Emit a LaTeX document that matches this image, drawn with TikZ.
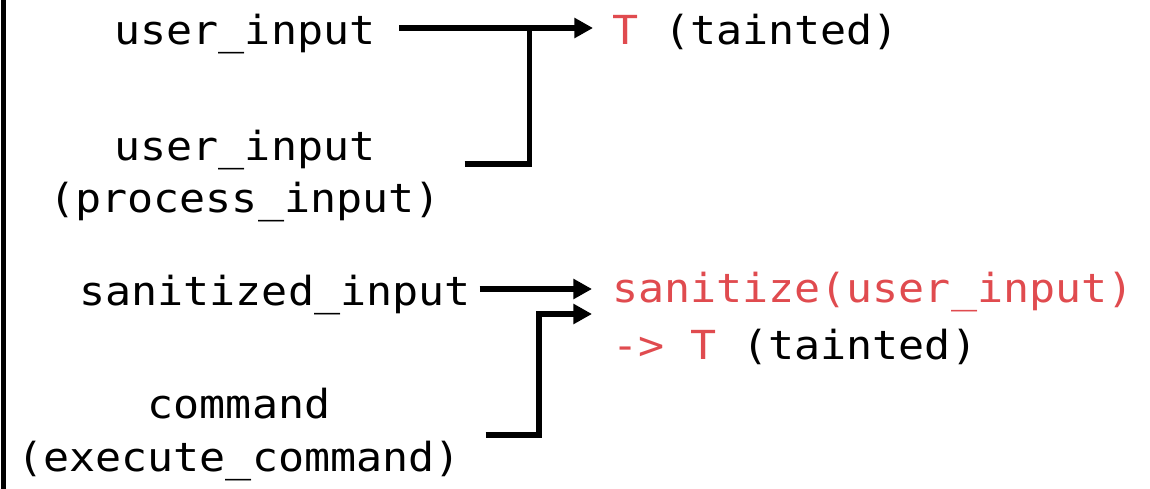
\documentclass[tikz,border=0pt]{standalone}
\usepackage{fontspec}
\usetikzlibrary{arrows.meta}
\newfontfamily\codefont[FakeStretch=1.083]{DejaVu Sans Mono}
\definecolor{taint}{HTML}{E04B4F}
\begin{document}
\begin{tikzpicture}[x=0.75pt,y=-0.75pt,
  lbl/.style={inner sep=0pt,outer sep=0pt,font=\codefont\fontsize{30pt}{36pt}\selectfont},
  conn/.style={line width=4.3pt,line join=miter},
  arr/.style={conn,-{Triangle[length=14pt,width=14.5pt]}}]
\useasboundingbox (0,0) rectangle (1150,489);
% left border line
\draw[line width=4pt] (3.5,0) -- (3.5,489);
% left labels
\node[lbl,anchor=base] (ui1) at (245,44) {user\_input};
\node[lbl,anchor=base] (ui2) at (245,160) {user\_input};
\node[lbl,anchor=base] (pi)  at (245,212) {(process\_input)};
\node[lbl,anchor=base] (si)  at (275,305) {sanitized\_input};
\node[lbl,anchor=base] (cm)  at (239,418) {command};
\node[lbl,anchor=base] (ec)  at (239,471) {(execute\_command)};
% right labels
\node[lbl,anchor=base west] (t1) at (612,44) {\textcolor{taint}{T} (tainted)};
\node[lbl,anchor=base west] (st) at (612,302) {\textcolor{taint}{sanitize(user\_input)}};
\node[lbl,anchor=base west] (t2) at (612,359) {\textcolor{taint}{-> T} (tainted)};
% connectors
\coordinate (j1) at ([xshift=115.5pt,yshift=12pt]ui1.base east);
\draw[arr] ([xshift=18pt,yshift=12pt]ui1.base east) -- ([xshift=-14.25pt,yshift=12pt]t1.base west);
\draw[conn] ([xshift=18pt,yshift=36pt]pi.base east) -| (j1);
\draw[arr] ([xshift=6.75pt,yshift=12pt]si.base east) -- ([xshift=-15pt,yshift=9.75pt]st.base west);
\draw[arr] ([xshift=18.75pt,yshift=27pt]ec.base east) -- ++(53,0) |- ([xshift=-15pt,yshift=-9pt]st.base west);
\end{tikzpicture}
\end{document}
